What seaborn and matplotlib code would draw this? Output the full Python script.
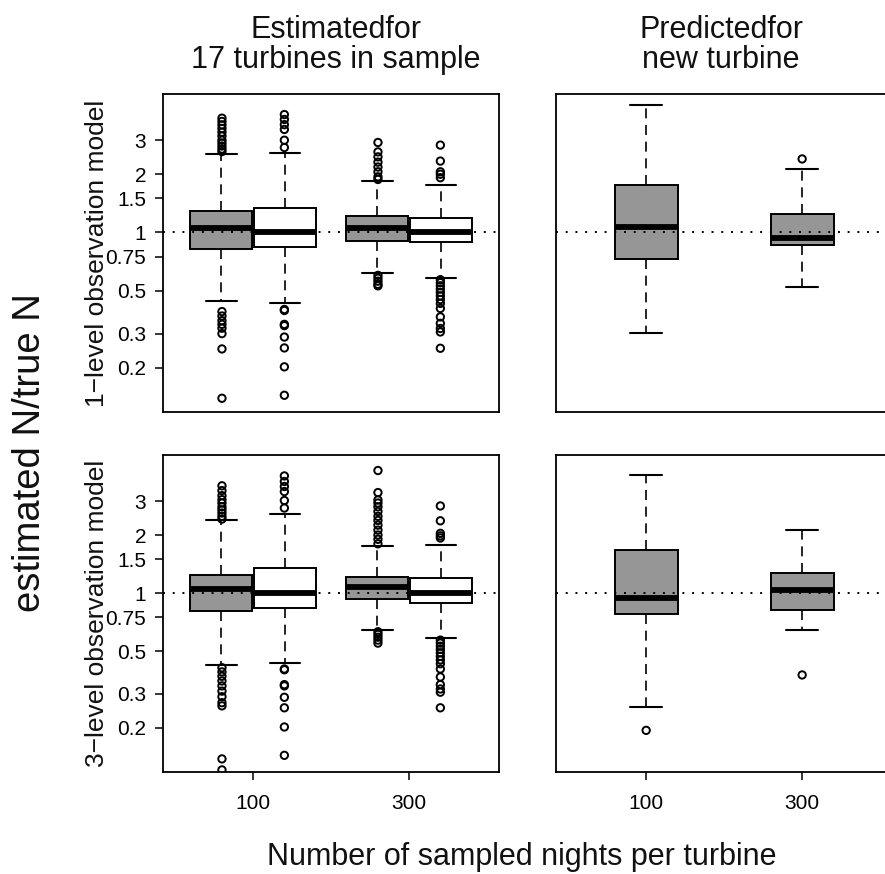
import numpy as np
import pandas as pd
import matplotlib
matplotlib.use("Agg")
import matplotlib.pyplot as plt
from matplotlib.ticker import NullLocator
import seaborn as sns

# categories on the x axis and the two fits shown side by side in the left column
nights = ["100", "300"]
fits = ["filled", "open"]
grey = "#969696"

ytick_vals = [0.2, 0.3, 0.5, 0.75, 1, 1.5, 2, 3]
ytick_labels = ["0.2", "0.3", "0.5", "0.75", "1", "1.5", "2", "3"]

# left column groups: 100/filled, 100/open, 300/filled, 300/open
est_nights = ["100", "100", "300", "300"]
est_fits = ["filled", "open", "filled", "open"]

# 1-level model, estimated for the 17 turbines (five-number summaries)
est1_low = [0.443, 0.433, 0.616, 0.583]
est1_q1 = [0.817, 0.839, 0.909, 0.888]
est1_med = [1.056, 1.0, 1.06, 1.0]
est1_q3 = [1.293, 1.34, 1.214, 1.19]
est1_high = [2.56, 2.57, 1.85, 1.755]

est1_out_100_filled = [3.9, 3.75, 3.6, 3.45, 3.3, 3.15, 3.0, 2.9, 2.8, 2.7, 2.62,
                       0.39, 0.37, 0.35, 0.335, 0.32, 0.30, 0.25, 0.139]
est1_out_100_open = [4.07, 3.84, 3.61, 3.41, 3.0, 2.75,
                     0.40, 0.395, 0.335, 0.33, 0.288, 0.253, 0.202, 0.144]
est1_out_300_filled = [2.92, 2.61, 2.46, 2.31, 2.18, 2.06, 1.94, 1.88,
                       0.60, 0.58, 0.56, 0.54, 0.53]
est1_out_300_open = [2.83, 2.34, 2.06, 2.0, 1.92,
                     0.57, 0.55, 0.53, 0.51, 0.49, 0.47, 0.45, 0.43,
                     0.405, 0.366, 0.339, 0.319, 0.306, 0.252]

# 3-level model, estimated for the 17 turbines
est3_low = [0.426, 0.434, 0.645, 0.587]
est3_q1 = [0.81, 0.839, 0.927, 0.891]
est3_med = [1.049, 1.0, 1.074, 1.0]
est3_q3 = [1.243, 1.35, 1.205, 1.196]
est3_high = [2.38, 2.58, 1.744, 1.765]

est3_out_100_filled = [3.6, 3.4, 3.2, 3.05, 2.93, 2.8, 2.7, 2.6, 2.5, 2.42,
                       0.41, 0.39, 0.37, 0.35, 0.33, 0.31, 0.29, 0.27, 0.26, 0.138, 0.121]
est3_out_100_open = [4.05, 3.79, 3.57, 3.36, 3.02, 2.76,
                     0.404, 0.40, 0.335, 0.33, 0.288, 0.254, 0.202, 0.144]
est3_out_300_filled = [4.32, 3.32, 3.04, 2.93, 2.8, 2.65, 2.5, 2.38, 2.25, 2.12, 2.0, 1.9, 1.8,
                       0.63, 0.61, 0.59, 0.57, 0.55]
est3_out_300_open = [2.83, 2.37, 2.04, 1.98, 1.93,
                     0.57, 0.55, 0.53, 0.51, 0.49, 0.47, 0.45, 0.43,
                     0.404, 0.367, 0.335, 0.318, 0.306, 0.254]

# predicted for a new turbine (right column), 100 and 300 nights
pred1_low = [0.301, 0.523]
pred1_q1 = [0.728, 0.86]
pred1_med = [1.065, 0.938]
pred1_q3 = [1.75, 1.243]
pred1_high = [4.56, 2.14]
pred1_out_100 = []
pred1_out_300 = [2.40]

pred3_low = [0.255, 0.645]
pred3_q1 = [0.781, 0.819]
pred3_med = [0.945, 1.04]
pred3_q3 = [1.67, 1.274]
pred3_high = [4.09, 2.13]
pred3_out_100 = [0.194]
pred3_out_300 = [0.376]


def summary_frame(cats, hues, low, q1, med, q3, high):
    # five values per group give exactly these quartiles and min/max whiskers
    rows = []
    for i, c in enumerate(cats):
        for v in (low[i], q1[i], med[i], q3[i], high[i]):
            rows.append({"nights": c, "fit": hues[i], "ratio": v})
    return pd.DataFrame(rows)


def flier_frame(groups):
    rows = []
    for (c, h), vals in groups:
        for v in vals:
            rows.append({"nights": c, "fit": h, "ratio": v})
    return pd.DataFrame(rows, columns=["nights", "fit", "ratio"])


sns.set_theme(style="white")
plt.rcParams["font.family"] = ["Liberation Sans", "DejaVu Sans"]

box_kw = dict(whis=(0, 100), showfliers=False, log_scale=True, saturation=1,
              linecolor="black", linewidth=1.0,
              boxprops={"linewidth": 1.4},
              medianprops={"linewidth": 4.2},
              whiskerprops={"linestyle": (0, (6, 4)), "linewidth": 1.2},
              capprops={"linewidth": 1.5})
pt_kw = dict(jitter=False, size=5.3, linewidth=1.4, edgecolor="black", legend=False, log_scale=True)

fig = plt.figure(figsize=(8.85, 8.74), dpi=100)
W, H = 885.0, 874.0
axes = {
    "est1": fig.add_axes([163 / W, 1 - 412 / H, 336 / W, 318 / H]),
    "pred1": fig.add_axes([556 / W, 1 - 412 / H, 336 / W, 318 / H]),
    "est3": fig.add_axes([163 / W, 1 - 772 / H, 336 / W, 317 / H]),
    "pred3": fig.add_axes([556 / W, 1 - 772 / H, 336 / W, 317 / H]),
}

left_sets = {
    "est1": (summary_frame(est_nights, est_fits, est1_low, est1_q1, est1_med, est1_q3, est1_high),
             flier_frame([(("100", "filled"), est1_out_100_filled), (("100", "open"), est1_out_100_open),
                          (("300", "filled"), est1_out_300_filled), (("300", "open"), est1_out_300_open)])),
    "est3": (summary_frame(est_nights, est_fits, est3_low, est3_q1, est3_med, est3_q3, est3_high),
             flier_frame([(("100", "filled"), est3_out_100_filled), (("100", "open"), est3_out_100_open),
                          (("300", "filled"), est3_out_300_filled), (("300", "open"), est3_out_300_open)])),
}
right_sets = {
    "pred1": (summary_frame(nights, ["filled", "filled"], pred1_low, pred1_q1, pred1_med, pred1_q3, pred1_high),
              flier_frame([(("100", "filled"), pred1_out_100), (("300", "filled"), pred1_out_300)])),
    "pred3": (summary_frame(nights, ["filled", "filled"], pred3_low, pred3_q1, pred3_med, pred3_q3, pred3_high),
              flier_frame([(("100", "filled"), pred3_out_100), (("300", "filled"), pred3_out_300)])),
}

pal = {"filled": grey, "open": "white"}
for key, (df, fl) in left_sets.items():
    ax = axes[key]
    sns.boxplot(data=df, x="nights", y="ratio", hue="fit", order=nights, hue_order=fits,
                palette=pal, width=0.82, gap=0.04, dodge=True, legend=False, ax=ax, **box_kw)
    sns.stripplot(data=fl, x="nights", y="ratio", hue="fit", order=nights, hue_order=fits,
                  palette=pal, dodge=True, ax=ax, **pt_kw)

for key, (df, fl) in right_sets.items():
    ax = axes[key]
    sns.boxplot(data=df, x="nights", y="ratio", order=nights, color=grey, width=0.404, ax=ax, **box_kw)
    if len(fl):
        sns.stripplot(data=fl, x="nights", y="ratio", order=nights, color="white", ax=ax, **pt_kw)

for key, ax in axes.items():
    for coll in ax.collections:
        coll.set_facecolor("none")
        coll.set_edgecolor("black")
    ax.axhline(1, color="black", linestyle=(0, (1, 4)), linewidth=1.4, zorder=6)
    ax.set_xlim(-0.578, 1.576)
    ax.set_ylim(0.118, 5.2)
    ax.set_xlabel("")
    ax.set_ylabel("")
    ax.yaxis.set_minor_locator(NullLocator())
    for sp in ax.spines.values():
        sp.set_linewidth(1.3)
        sp.set_color("black")
    if key.startswith("est"):
        ax.set_yticks(ytick_vals, labels=ytick_labels)
        ax.tick_params(axis="y", left=True, length=6, width=1.1, pad=6, labelsize=15, colors="black")
    else:
        ax.set_yticks([])
    if key.endswith("3"):
        ax.set_xticks([0, 1], labels=nights)
        ax.tick_params(axis="x", bottom=True, length=6, width=1.1, pad=10, labelsize=15, colors="black")
    else:
        ax.set_xticks([])

fig.text(336 / W, 1 - 68 / H, "Estimatedfor\n17 turbines in sample", ha="center", va="baseline",
         fontsize=22, linespacing=1.0, color="#111111")
fig.text(721 / W, 1 - 68 / H, "Predictedfor\nnew turbine", ha="center", va="baseline",
         fontsize=22, linespacing=1.0, color="#111111")
fig.text(97 / W, 1 - 253 / H, "1\u2212level observation model", rotation=90, ha="center", va="center",
         fontsize=19, color="#111111")
fig.text(97 / W, 1 - 613 / H, "3\u2212level observation model", rotation=90, ha="center", va="center",
         fontsize=19, color="#111111")
fig.text(30 / W, 1 - 453 / H, "estimated N/true N", rotation=90, ha="center", va="center",
         fontsize=27.5, color="#111111")
fig.text(522 / W, 9 / H, "Number of sampled nights per turbine", ha="center", va="baseline",
         fontsize=22, color="#111111")

fig.savefig("out.png", dpi=100)
